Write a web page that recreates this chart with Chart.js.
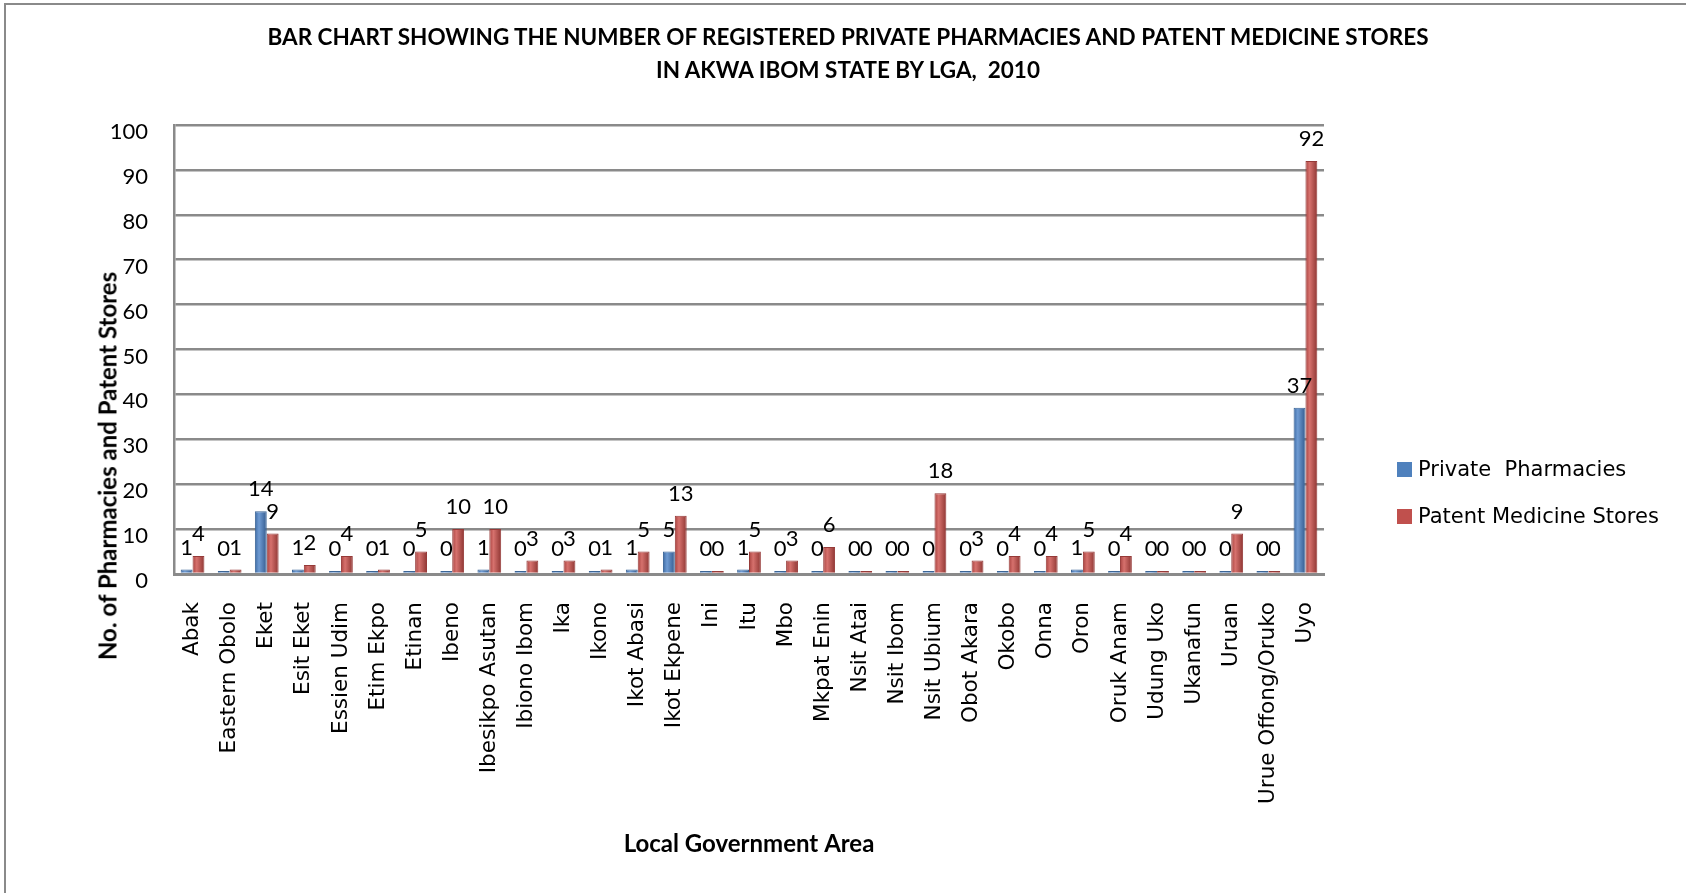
<!DOCTYPE html>
<html>
<head>
<meta charset="utf-8">
<script src="https://cdn.jsdelivr.net/npm/chart.js@4.4.1/dist/chart.umd.min.js"></script>
<style>
  html, body { margin: 0; padding: 0; background: #fff; }
  #wrap { position: relative; width: 1686px; height: 893px; overflow: hidden; }
  #frame { position: absolute; left: 4px; top: 3px; right: -10px; bottom: -10px;
           border-top: 2px solid #8a8a8a; border-left: 2px solid #8a8a8a; }
  #chart { position: absolute; left: 0; top: 0; }
  .title { position: absolute; left: 0; width: 1696px; text-align: center; white-space: pre;
           font: bold 22.5px Lato, sans-serif; color: #000; }
  #ytitle { position: absolute; left: 107px; top: 466px; white-space: pre;
            transform: translate(-50%, -50%) rotate(-90deg);
            font: bold 24px Lato, sans-serif; color: #000; }
  .leg { position: absolute; left: 1397px; white-space: pre; font: 21px "DejaVu Sans", sans-serif; color: #000; }
  .leg i { position: absolute; left: 0; top: 5px; width: 15px; height: 15px; }
  .leg span { margin-left: 21px; }
</style>
</head>
<body>
<div id="wrap">
  <div id="frame"></div>
  <canvas id="chart" width="1686" height="893"></canvas>
  <div class="title" style="top:23px">BAR CHART SHOWING THE NUMBER OF REGISTERED PRIVATE PHARMACIES AND PATENT MEDICINE STORES</div>
  <div class="title" style="top:56px">IN AKWA IBOM STATE BY LGA,  2010</div>
  <div id="ytitle">No. of Pharmacies and Patent Stores</div>
  <div class="leg" style="top:457px"><i style="background:#4F81BD"></i><span>Private  Pharmacies</span></div>
  <div class="leg" style="top:504px"><i style="background:#C0504D"></i><span>Patent Medicine Stores</span></div>
</div>
<script>
'use strict';

// ── Data ─────────────────────────────────────────────────────────────────────

const lgas = [
  'Abak', 'Eastern Obolo', 'Eket', 'Esit Eket', 'Essien Udim', 'Etim Ekpo', 'Etinan',
  'Ibeno', 'Ibesikpo Asutan', 'Ibiono Ibom', 'Ika', 'Ikono', 'Ikot Abasi', 'Ikot Ekpene',
  'Ini', 'Itu', 'Mbo', 'Mkpat Enin', 'Nsit Atai', 'Nsit Ibom', 'Nsit Ubium', 'Obot Akara',
  'Okobo', 'Onna', 'Oron', 'Oruk Anam', 'Udung Uko', 'Ukanafun', 'Uruan',
  'Urue Offong/Oruko', 'Uyo',
];
const privatePharmacies = [
  1, 0, 14, 1, 0, 0, 0, 0, 1, 0, 0, 0, 1, 5, 0, 1, 0, 0, 0, 0,
  0, 0, 0, 0, 1, 0, 0, 0, 0, 0, 37,
];
const patentStores = [
  4, 1, 9, 2, 4, 1, 5, 10, 10, 3, 3, 1, 5, 13, 0, 5, 3, 6, 0, 0,
  18, 3, 4, 4, 5, 4, 0, 0, 9, 0, 92,
];
const yTicks = [0, 10, 20, 30, 40, 50, 60, 70, 80, 90, 100];

const CAT_PCT = 0.64;

// ── Cylinder-ish shading for each bar ────────────────────────────────────────

function shade(stops) {
  return c => {
    const chart = c.chart;
    const xs = chart.scales.x;
    if (!xs || c.dataIndex === undefined || !chart.chartArea) return stops[1];
    const centre = xs.getPixelForValue(c.dataIndex);
    const cat = (xs.right - xs.left) / lgas.length;
    const w = cat * CAT_PCT / 2;
    const left = centre + (c.datasetIndex === 0 ? -w : 0);
    const g = chart.ctx.createLinearGradient(left, 0, left + w, 0);
    g.addColorStop(0, stops[0]);
    g.addColorStop(0.35, stops[1]);
    g.addColorStop(1, stops[2]);
    return g;
  };
}

// ── Value labels above bars ──────────────────────────────────────────────────

const valueLabels = {
  id: 'valueLabels',
  afterDatasetsDraw(chart) {
    const ctx = chart.ctx;
    ctx.save();
    ctx.font = '22px Lato';
    ctx.fillStyle = '#000';
    ctx.textAlign = 'center';
    ctx.textBaseline = 'alphabetic';
    chart.data.datasets.forEach((ds, i) => {
      chart.getDatasetMeta(i).data.forEach((bar, j) => {
        ctx.fillText(String(ds.data[j]), bar.x, bar.y - 15);
      });
    });
    ctx.restore();
  },
};

// ── Chart ────────────────────────────────────────────────────────────────────

const GRID = '#8a8a8a';

new Chart(document.getElementById('chart'), {
  type: 'bar',
  data: {
    labels: lgas,
    datasets: [
      { label: 'Private  Pharmacies', data: privatePharmacies,
        backgroundColor: shade(['#3d6aa3', '#6f9bd3', '#335b8e']),
        borderColor: '#3a6496', borderWidth: 1 },
      { label: 'Patent Medicine Stores', data: patentStores,
        backgroundColor: shade(['#a8423f', '#d6716d', '#8f3633']),
        borderColor: '#963a38', borderWidth: 1 },
    ],
  },
  options: {
    responsive: false,
    animation: false,
    events: [],
    layout: { padding: { left: 74, right: 362, top: 125, bottom: 34 } },
    datasets: { bar: { categoryPercentage: CAT_PCT, barPercentage: 1, minBarLength: 3 } },
    plugins: {
      legend: { display: false },
      tooltip: { enabled: false },
      title: { display: false },
    },
    scales: {
      x: {
        grid: { display: false, drawTicks: false },
        border: { display: true, color: GRID, width: 3 },
        ticks: {
          autoSkip: false, minRotation: 90, maxRotation: 90, padding: 28,
          color: '#000', font: { family: 'DejaVu Sans', size: 21.5 },
        },
        title: {
          display: true, text: 'Local Government Area', color: '#000',
          font: { family: 'Lato', size: 24, weight: 'bold' }, padding: 0,
        },
        afterFit: s => { s.height = 285; },
      },
      y: {
        min: 0, max: 100,
        afterBuildTicks: s => { s.ticks = yTicks.map(v => ({ value: v })); },
        grid: { color: GRID, lineWidth: 2.5, drawTicks: false },
        border: { display: true, color: GRID, width: 2.5 },
        ticks: { padding: 26, labelOffset: 7, color: '#000', font: { family: 'Lato', size: 22 } },
        afterFit: s => { s.width = 100; },
      },
    },
  },
  plugins: [valueLabels],
});
</script>
</body>
</html>
